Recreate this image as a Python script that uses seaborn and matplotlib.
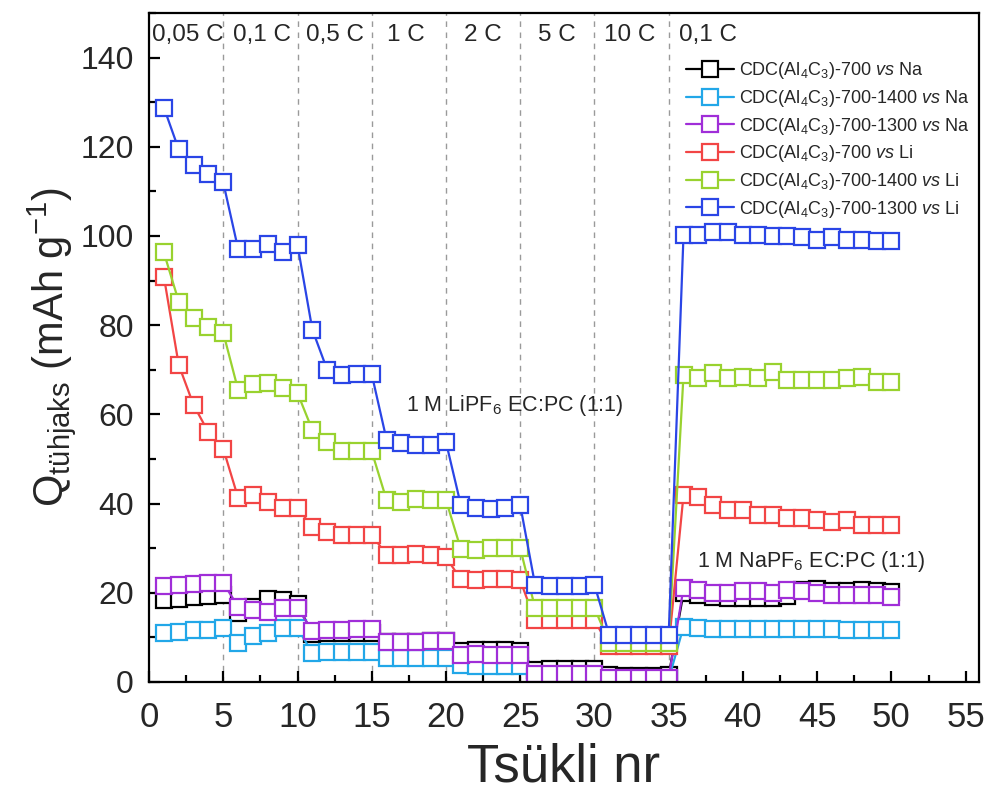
import numpy as np
import pandas as pd
import matplotlib
matplotlib.use("Agg")
import matplotlib.pyplot as plt
from matplotlib.ticker import MultipleLocator
import seaborn as sns

# Cycle numbers and discharge capacities (mAh/g)
cycles = list(range(1, 51))

na_700 = [18.4, 18.6, 19.0, 19.3, 19.5,
          15.5, 16.9, 18.6, 18.4, 17.5,
          10.8, 10.9, 10.9, 11.0, 11.0,
          9.0, 9.0, 9.0, 9.1, 9.1,
          7.0, 7.1, 7.2, 7.1, 7.0,
          2.8, 3.0, 3.0, 3.0, 3.0,
          1.5, 1.4, 1.4, 1.4, 1.5,
          20.0, 19.4, 19.0, 18.9, 18.9, 18.8, 18.8, 19.3,
          20.6, 20.8, 20.5, 20.3, 20.6, 20.4, 20.2]

na_700_1400 = [10.9, 11.3, 11.7, 11.7, 12.1,
               8.7, 10.2, 11.0, 12.1, 12.1,
               6.5, 6.8, 6.8, 6.8, 6.8,
               5.3, 5.3, 5.3, 5.3, 5.3,
               3.8, 3.5, 3.5, 3.5, 3.5,
               1.2, 1.2, 1.2, 1.2, 1.2,
               0.6, 0.6, 0.6, 0.6, 0.6,
               12.4, 12.0, 11.9, 11.9, 11.9, 11.9, 11.8, 11.9,
               11.9, 11.8, 11.8, 11.7, 11.7, 11.7, 11.7]

na_700_1300 = [21.5, 21.8, 22.0, 22.3, 22.2,
               16.9, 16.2, 15.8, 16.6, 16.6,
               11.5, 11.7, 11.7, 11.9, 11.9,
               9.0, 9.0, 9.0, 9.2, 9.2,
               6.0, 6.3, 6.0, 6.0, 6.0,
               1.9, 1.9, 1.9, 1.9, 1.9,
               1.0, 1.0, 1.0, 1.0, 1.0,
               21.1, 20.6, 20.0, 20.0, 20.3, 20.3, 20.0, 20.6,
               20.3, 20.0, 19.5, 19.5, 19.5, 19.5, 19.1]

li_700 = [90.9, 71.1, 62.1, 56.0, 52.3,
          41.3, 42.0, 40.4, 39.0, 39.0,
          34.8, 33.7, 33.0, 33.0, 33.0,
          28.5, 28.5, 28.8, 28.5, 28.0,
          23.0, 22.8, 23.0, 23.0, 22.8,
          13.8, 13.8, 13.8, 13.8, 13.8,
          8.0, 8.0, 8.0, 8.0, 8.0,
          42.0, 41.5, 39.7, 38.6, 38.6, 37.5, 37.5, 36.8,
          36.8, 36.3, 35.9, 36.3, 35.2, 35.2, 35.2]

li_700_1400 = [96.3, 85.3, 81.7, 79.7, 78.3,
               65.5, 66.9, 67.0, 66.0, 64.8,
               56.5, 53.9, 51.7, 51.7, 51.7,
               40.8, 40.4, 41.1, 40.8, 40.8,
               29.8, 29.5, 30.0, 30.0, 30.0,
               16.6, 16.6, 16.6, 16.6, 16.6,
               8.8, 8.8, 8.8, 8.8, 8.8,
               68.9, 68.2, 69.3, 68.2, 68.4, 68.2, 69.5, 67.8,
               67.8, 67.8, 67.8, 68.2, 68.4, 67.3, 67.3]

li_700_1300 = [128.8, 119.4, 116.0, 113.8, 112.0,
               97.1, 97.0, 98.3, 96.3, 98.0,
               79.0, 70.0, 68.9, 69.0, 69.0,
               54.3, 53.6, 53.2, 53.2, 53.8,
               39.7, 39.0, 38.8, 39.0, 39.7,
               21.8, 21.5, 21.5, 21.5, 21.8,
               10.5, 10.5, 10.5, 10.5, 10.5,
               100.3, 100.3, 101.0, 100.8, 100.3, 100.3, 100.0, 100.0,
               99.8, 99.2, 99.8, 99.2, 99.0, 98.8, 98.8]

series_labels = [
    r"CDC(Al$_4$C$_3$)-700 $\mathit{vs}$ Na",
    r"CDC(Al$_4$C$_3$)-700-1400 $\mathit{vs}$ Na",
    r"CDC(Al$_4$C$_3$)-700-1300 $\mathit{vs}$ Na",
    r"CDC(Al$_4$C$_3$)-700 $\mathit{vs}$ Li",
    r"CDC(Al$_4$C$_3$)-700-1400 $\mathit{vs}$ Li",
    r"CDC(Al$_4$C$_3$)-700-1300 $\mathit{vs}$ Li",
]
series_values = [na_700, na_700_1400, na_700_1300, li_700, li_700_1400, li_700_1300]
series_colors = ["#000000", "#22A7E8", "#A02ED8", "#F24545", "#99D22F", "#2A45E6"]

rate_labels = ["0,05 C", "0,1 C", "0,5 C", "1 C", "2 C", "5 C", "10 C", "0,1 C"]
rate_label_x = [2.6, 7.6, 12.5, 17.3, 22.5, 27.5, 32.4, 35.7]
rate_label_ha = ["center"] * 7 + ["left"]
rate_boundaries = [5, 10, 15, 20, 25, 30, 35]

sns.set_theme(style="ticks")
plt.rcParams["font.family"] = ["Liberation Sans", "DejaVu Sans"]
plt.rcParams["mathtext.fontset"] = "custom"
plt.rcParams["mathtext.rm"] = "Liberation Sans"
plt.rcParams["mathtext.it"] = "Liberation Sans:italic"
plt.rcParams["mathtext.bf"] = "Liberation Sans:bold"

fig = plt.figure(figsize=(9.85, 7.92), dpi=100)
ax = fig.add_axes([0.1513, 0.1389, 0.8426, 0.8447])

for xb in rate_boundaries:
    ax.axvline(xb, color="#9a9a9a", lw=1.0, ls=(0, (4, 4)), zorder=0)

for vals, lab, col in zip(series_values, series_labels, series_colors):
    df = pd.DataFrame({"cycle": cycles, "q": vals})
    sns.lineplot(data=df, x="cycle", y="q", ax=ax, color=col, lw=1.6,
                 marker="s", markersize=11.5, markerfacecolor="white",
                 markeredgecolor=col, markeredgewidth=1.6, label=lab,
                 sort=False, estimator=None)

ax.set_xlim(0, 55.9)
ax.set_ylim(0, 150)
ax.xaxis.set_major_locator(MultipleLocator(5))
ax.xaxis.set_minor_locator(MultipleLocator(2.5))
ax.yaxis.set_minor_locator(MultipleLocator(10))
ax.set_yticks(range(0, 141, 20))
ax.tick_params(which="both", direction="in", top=False, right=False, width=1.6, color="black")
ax.tick_params(which="major", length=8)
ax.tick_params(which="minor", length=5)
ax.tick_params(axis="x", labelsize=25, pad=14)
ax.tick_params(axis="y", labelsize=23, pad=11)
for sp in ax.spines.values():
    sp.set_visible(True)
    sp.set_linewidth(1.6)
    sp.set_color("black")

ax.set_xlabel("Tsükli nr", fontsize=38, labelpad=6)
ax.set_ylabel(r"Q$_{\mathrm{tühjaks}}$ (mAh g$^{-1}$)", fontsize=30, labelpad=2)

for txt, xp, ha in zip(rate_labels, rate_label_x, rate_label_ha):
    ax.text(xp, 145, txt, fontsize=17.5, ha=ha, va="center")

ax.text(17.3, 62, r"1 M LiPF$_6$ EC:PC (1:1)", fontsize=15.5, ha="left", va="center")
ax.text(36.9, 27, r"1 M NaPF$_6$ EC:PC (1:1)", fontsize=15.5, ha="left", va="center")

handles, labels = ax.get_legend_handles_labels()
ax.legend(handles, labels, loc="upper left", bbox_to_anchor=(0.638, 0.94),
          frameon=False, fontsize=13.0, handlelength=2.65, handletextpad=0.3,
          labelspacing=0.37, borderaxespad=0)

fig.savefig("out.png", dpi=100)
